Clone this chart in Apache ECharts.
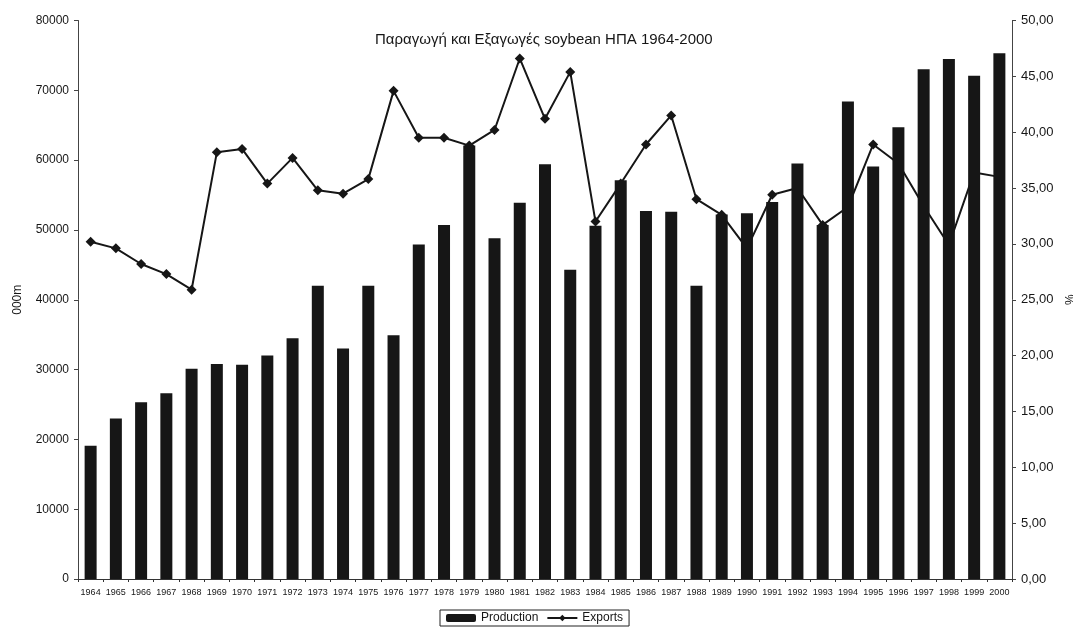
<!DOCTYPE html>
<html>
<head>
<meta charset="utf-8">
<script src="https://cdn.jsdelivr.net/npm/echarts@6/dist/echarts.min.js"></script>
<style>
  html, body { margin: 0; padding: 0; background: #fff; }
  #chart { width: 1073px; height: 629px; }
</style>
</head>
<body>
<div id="chart"></div>
<script>
// US soybean production (thousand tonnes) and exports share (%), 1964-2000
const years = ['1964','1965','1966','1967','1968','1969','1970','1971','1972','1973',
  '1974','1975','1976','1977','1978','1979','1980','1981','1982','1983',
  '1984','1985','1986','1987','1988','1989','1990','1991','1992','1993',
  '1994','1995','1996','1997','1998','1999','2000'];

const production = [19100, 23000, 25300, 26600, 30100, 30800, 30700, 32000, 34500, 42000,
  33000, 42000, 34900, 47900, 50700, 62100, 48800, 53900, 59400, 44300,
  50600, 57100, 52700, 52600, 42000, 52200, 52400, 54000, 59500, 50700,
  68400, 59100, 64700, 73000, 74500, 72100, 75300];

const exportsShare = [30.2, 29.6, 28.2, 27.3, 25.9, 38.2, 38.5, 35.4, 37.7, 34.8,
  34.5, 35.8, 43.7, 39.5, 39.5, 38.8, 40.2, 46.6, 41.2, 45.4,
  32.0, 35.4, 38.9, 41.5, 34.0, 32.6, 29.6, 34.4, 35.0, 31.7,
  33.3, 38.9, 37.2, 33.4, 29.9, 36.4, 36.0];

// axis ranges: [min, max, step]
const leftScale = [0, 80000, 10000];
const rightScale = [0, 50, 5];

const titleText = 'Παραγωγή και Εξαγωγές soybean ΗΠΑ 1964-2000';
const seriesNames = ['Production', 'Exports'];
const leftName = '000m';
const rightName = '%';

const font = "'Liberation Sans', Arial, sans-serif";
const ink = '#161616';

const chart = echarts.init(document.getElementById('chart'));
chart.setOption({
  animation: false,
  backgroundColor: '#fff',
  textStyle: { fontFamily: font, color: ink },
  title: {
    text: titleText,
    left: 370,
    top: 27,
    textStyle: { fontFamily: font, fontSize: 15, fontWeight: 'normal', color: ink }
  },
  legend: {
    data: seriesNames,
    left: 440,
    top: 610,
    padding: [2, 6, 2, 6],
    itemGap: 8,
    itemWidth: 30,
    itemHeight: 8,
    borderColor: '#222',
    borderWidth: 1,
    textStyle: { fontFamily: font, fontSize: 12, color: ink }
  },
  grid: {
    left: 78, right: 61, top: 20.5, bottom: 50,
    containLabel: false,
    outerBoundsMode: 'none'
  },
  xAxis: {
    type: 'category',
    data: years,
    boundaryGap: true,
    axisLine: { lineStyle: { color: '#333', width: 1 } },
    axisTick: { show: true, length: 3, interval: 0, lineStyle: { color: '#333' } },
    axisLabel: { interval: 0, fontSize: 9, margin: 9, color: ink, fontFamily: font }
  },
  yAxis: [
    {
      type: 'value',
      position: 'left',
      min: leftScale[0], max: leftScale[1], interval: leftScale[2],
      name: leftName,
      nameLocation: 'middle',
      nameGap: 54,
      nameTextStyle: { fontSize: 12, color: ink, fontFamily: font },
      axisLine: { show: true, lineStyle: { color: '#444' } },
      axisTick: { show: true, length: 4, lineStyle: { color: '#444' } },
      splitLine: { show: false },
      axisLabel: {
        fontSize: 12, margin: 9, color: ink, fontFamily: font,
        formatter: v => String(v)
      }
    },
    {
      type: 'value',
      position: 'right',
      min: rightScale[0], max: rightScale[1], interval: rightScale[2],
      name: rightName,
      nameLocation: 'middle',
      nameGap: 52,
      nameTextStyle: { fontSize: 12, color: ink, fontFamily: font },
      axisLine: { show: true, lineStyle: { color: '#444' } },
      axisTick: { show: true, length: 4, lineStyle: { color: '#444' } },
      splitLine: { show: false },
      axisLabel: {
        fontSize: 13, margin: 9, color: ink, fontFamily: font,
        formatter: v => v.toFixed(2).replace('.', ',')
      }
    }
  ],
  series: [
    {
      name: seriesNames[0],
      type: 'bar',
      yAxisIndex: 0,
      data: production,
      barWidth: 12,
      z: 3,
      itemStyle: { color: ink }
    },
    {
      name: seriesNames[1],
      type: 'line',
      yAxisIndex: 1,
      data: exportsShare,
      z: 2,
      symbol: 'diamond',
      symbolSize: 10,
      showAllSymbol: true,
      lineStyle: { color: ink, width: 2 },
      itemStyle: { color: ink }
    }
  ]
});
</script>
</body>
</html>
